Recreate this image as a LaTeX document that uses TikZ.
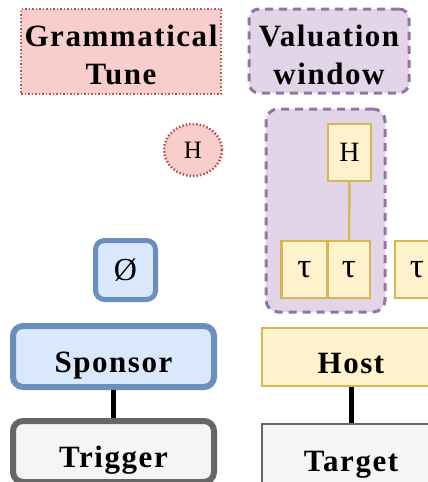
\documentclass[tikz,border=0pt]{standalone}
\usepackage{fontspec}
\setmainfont{Liberation Serif}
\newfontfamily\spaced[LetterSpace=5]{Liberation Serif}
\usetikzlibrary{shapes.geometric}
\definecolor{pinkfill}{HTML}{F8CECC}
\definecolor{pinkline}{HTML}{B85450}
\definecolor{purpfill}{HTML}{E1D5E7}
\definecolor{purpline}{HTML}{9673A6}
\definecolor{bluefill}{HTML}{DAE8FC}
\definecolor{blueline}{HTML}{6C8EBF}
\definecolor{yelfill}{HTML}{FFF2CC}
\definecolor{yelline}{HTML}{D6B656}
\definecolor{grayfill}{HTML}{F5F5F5}
\definecolor{grayline}{HTML}{666666}
\tikzset{
  boxsz/.style 2 args={minimum width=#1pt, minimum height=#2pt, inner sep=0pt},
  bigtxt/.style={font=\spaced\bfseries\fontsize{31}{38}\selectfont, text height=32.8pt, text depth=0pt},
  twoline/.style={font=\spaced\bfseries\fontsize{31}{38}\selectfont, align=center},
  dotbox/.style={draw=pinkline, fill=pinkfill, line width=2.5pt, dash pattern=on 1.5pt off 2pt},
  dashbox/.style={draw=purpline, fill=purpfill, line width=3pt, dash pattern=on 8pt off 6pt, rounded corners=10pt},
  yelbox/.style={draw=yelline, fill=yelfill, line width=2.5pt},
  bluebox/.style={draw=blueline, fill=bluefill, rounded corners=9pt},
  graybox/.style={draw=grayline, fill=grayfill},
  conn/.style={line width=5pt, draw=black},
  yconn/.style={line width=2.5pt, draw=yelline},
  symtxt/.style={font=\fontsize{28}{30}\selectfont},
  tautxt/.style={font=\fontsize{35}{36}\selectfont},
}
\begin{document}
\begin{tikzpicture}[x=1pt,y=-1pt]
\useasboundingbox (0,0) rectangle (428,482);
\clip (0,0) rectangle (428,482);
% top labels
\node[dotbox, boxsz={200}{85}, twoline] (gt) at (121,51.5) {\rule{0pt}{29pt}Grammatical\\Tune};
\node[dashbox, boxsz={160}{84}, twoline] (vw) at (329,51) {\rule{0pt}{29pt}Valuation\\window};
% H ellipse
\node[dotbox, ellipse, minimum width=58pt, minimum height=52pt, inner sep=0pt, font=\fontsize{25}{27}\selectfont] (he) at (193,150) {H};
% valuation group
\node[dashbox, rounded corners=12pt, boxsz={119}{203}] (grp) at (325.5,210.5) {};
\node[yelbox, boxsz={43}{57}, symtxt] (hb) at (349.5,152.5) {H};
\node[yelbox, boxsz={46}{57}, tautxt] (t1) at (304.5,269.5) {τ};
\node[yelbox, boxsz={42}{57}, tautxt] (t2) at (349,269.5) {τ};
\node[yelbox, boxsz={44}{57}, tautxt] (t3) at (417,269.5) {τ};
\draw[yconn] (hb.south) -- (t2.north);
% empty set
\node[bluebox, line width=5pt, boxsz={60}{59}, font=\fontsize{32}{34}\selectfont] (es) at (125.5,270) {Ø};
% sponsor / trigger
\node[bluebox, line width=6pt, rounded corners=10pt, boxsz={201}{61}, bigtxt] (sp) at (113.5,356.5) {Sponsor};
\node[graybox, line width=6pt, rounded corners=10pt, boxsz={201}{61}, bigtxt] (tr) at (113.5,451.5) {Trigger};
\draw[conn] (sp.south) -- (tr.north);
% host / target
\node[yelbox, line width=2pt, boxsz={178}{58}, bigtxt] (ho) at (351,357) {Host};
\node[graybox, line width=2pt, boxsz={178}{62}, bigtxt] (ta) at (351,455) {Target};
\draw[conn] (ho.south) -- (ta.north);
\end{tikzpicture}
\end{document}
